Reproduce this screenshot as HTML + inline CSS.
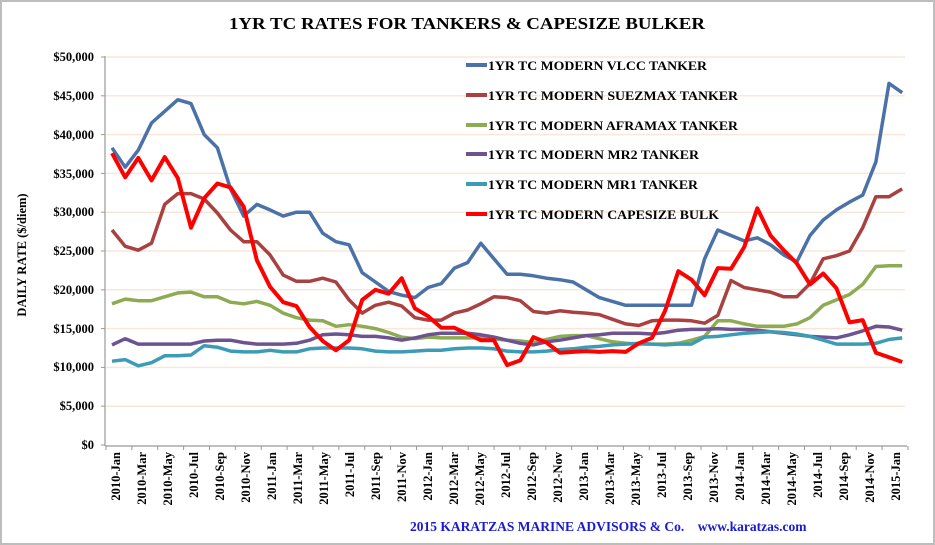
<!DOCTYPE html>
<html><head><meta charset="utf-8"><style>
html,body{margin:0;padding:0;background:#fff;}
svg{display:block;}
text{font-family:"Liberation Serif",serif;font-weight:bold;}
</style></head><body>
<svg id="s" width="935" height="545" viewBox="0 0 935 545" xmlns="http://www.w3.org/2000/svg">
<rect x="1" y="1" width="933" height="543" fill="#fff" stroke="#bdbdbd" stroke-width="2"/>
<text x="229" y="29" font-size="17" textLength="476" lengthAdjust="spacingAndGlyphs" fill="#000">1YR TC RATES FOR TANKERS &amp; CAPESIZE BULKER</text>
<g id="grid" stroke="#fbe6d8" stroke-width="1.5"></g>
<g font-size="12.5" text-anchor="end" fill="#000">
<text x="94" y="61">$50,000</text><text x="94" y="100">$45,000</text><text x="94" y="139">$40,000</text>
<text x="94" y="178">$35,000</text><text x="94" y="216">$30,000</text><text x="94" y="255">$25,000</text>
<text x="94" y="294">$20,000</text><text x="94" y="333">$15,000</text><text x="94" y="371">$10,000</text>
<text x="94" y="410">$5,000</text><text x="94" y="449">$0</text>
</g>
<text transform="translate(26,255) rotate(-90)" font-size="12.5" text-anchor="middle">DAILY RATE ($/diem)</text>
<line x1="105" y1="56" x2="105" y2="446" stroke="#999" stroke-width="1.2"/>
<line x1="105" y1="446" x2="907" y2="446" stroke="#999" stroke-width="1.2"/>
<g id="ticks" stroke="#999" stroke-width="1"></g>
<g id="series" fill="none" stroke-width="3.5" stroke-linejoin="round"></g>
<g font-size="13" fill="#000">
<line x1="466" y1="65" x2="487" y2="65" stroke="#4a72a8" stroke-width="4"/><text x="488" y="70" textLength="219" lengthAdjust="spacingAndGlyphs">1YR TC MODERN VLCC TANKER</text>
<line x1="466" y1="95" x2="487" y2="95" stroke="#a8413f" stroke-width="4"/><text x="488" y="100" textLength="250" lengthAdjust="spacingAndGlyphs">1YR TC MODERN SUEZMAX TANKER</text>
<line x1="466" y1="125" x2="487" y2="125" stroke="#8cab52" stroke-width="4"/><text x="488" y="130" textLength="250" lengthAdjust="spacingAndGlyphs">1YR TC MODERN AFRAMAX TANKER</text>
<line x1="466" y1="154" x2="487" y2="154" stroke="#6e5391" stroke-width="4"/><text x="488" y="159" textLength="211" lengthAdjust="spacingAndGlyphs">1YR TC MODERN MR2 TANKER</text>
<line x1="466" y1="184" x2="487" y2="184" stroke="#3d9cb5" stroke-width="4"/><text x="488" y="189" textLength="210" lengthAdjust="spacingAndGlyphs">1YR TC MODERN MR1 TANKER</text>
<line x1="466" y1="214" x2="487" y2="214" stroke="#ff0000" stroke-width="4"/><text x="488" y="219" textLength="231" lengthAdjust="spacingAndGlyphs">1YR TC MODERN CAPESIZE BULK</text>
</g>
<text x="410" y="531" font-size="13.5" fill="#1a1ad0" xml:space="preserve">2015 KARATZAS MARINE ADVISORS &amp; Co.    www.karatzas.com</text>
<g font-size="12.5" text-anchor="end">
<text transform="translate(120,452) rotate(-90)">2010-Jan</text>
<text transform="translate(146,452) rotate(-90)">2010-Mar</text>
<text transform="translate(172,452) rotate(-90)">2010-May</text>
<text transform="translate(198,452) rotate(-90)">2010-Jul</text>
<text transform="translate(224,452) rotate(-90)">2010-Sep</text>
<text transform="translate(250,452) rotate(-90)">2010-Nov</text>
<text transform="translate(276,452) rotate(-90)">2011-Jan</text>
<text transform="translate(302,452) rotate(-90)">2011-Mar</text>
<text transform="translate(328,452) rotate(-90)">2011-May</text>
<text transform="translate(354,452) rotate(-90)">2011-Jul</text>
<text transform="translate(380,452) rotate(-90)">2011-Sep</text>
<text transform="translate(406,452) rotate(-90)">2011-Nov</text>
<text transform="translate(432,452) rotate(-90)">2012-Jan</text>
<text transform="translate(458,452) rotate(-90)">2012-Mar</text>
<text transform="translate(484,452) rotate(-90)">2012-May</text>
<text transform="translate(510,452) rotate(-90)">2012-Jul</text>
<text transform="translate(536,452) rotate(-90)">2012-Sep</text>
<text transform="translate(562,452) rotate(-90)">2012-Nov</text>
<text transform="translate(588,452) rotate(-90)">2013-Jan</text>
<text transform="translate(614,452) rotate(-90)">2013-Mar</text>
<text transform="translate(640,452) rotate(-90)">2013-May</text>
<text transform="translate(666,452) rotate(-90)">2013-Jul</text>
<text transform="translate(692,452) rotate(-90)">2013-Sep</text>
<text transform="translate(718,452) rotate(-90)">2013-Nov</text>
<text transform="translate(744,452) rotate(-90)">2014-Jan</text>
<text transform="translate(770,452) rotate(-90)">2014-Mar</text>
<text transform="translate(796,452) rotate(-90)">2014-May</text>
<text transform="translate(822,452) rotate(-90)">2014-Jul</text>
<text transform="translate(848,452) rotate(-90)">2014-Sep</text>
<text transform="translate(874,452) rotate(-90)">2014-Nov</text>
<text transform="translate(900,452) rotate(-90)">2015-Jan</text>
</g>
</svg>
<script>
var NS="http://www.w3.org/2000/svg";
function el(p,t,a){var e=document.createElementNS(NS,t);for(var k in a)e.setAttribute(k,a[k]);document.getElementById(p).appendChild(e);}
function Y(v){return 445-v*7.76;}
for(var g=5;g<=50;g+=5){el("grid","line",{x1:106,x2:905,y1:Y(g),y2:Y(g)});}
for(var t=0;t<=31;t++){var x=106+t*25.87;el("ticks","line",{x1:x,x2:x,y1:446,y2:450});}
for(var v=0;v<=50;v+=5){el("ticks","line",{x1:101,x2:105,y1:Y(v),y2:Y(v)});}
var D=[
["#4a72a8",[38.3,35.8,38,41.5,43,44.5,44,40,38.3,33,29.5,31,30.3,29.5,30,30,27.3,26.2,25.8,22.2,21,19.8,19.3,19,20.3,20.8,22.8,23.5,26,24,22,22,21.8,21.5,21.3,21,20,19,18.5,18,18,18,18,18,18,24,27.7,27,26.3,26.7,25.8,24.5,23.6,27,29,30.3,31.3,32.2,36.5,46.6,45.4]],
["#a8413f",[27.7,25.6,25.1,26,31,32.4,32.4,31.7,29.9,27.7,26.2,26.2,24.5,21.9,21.1,21.1,21.5,21,18.7,17,18,18.4,17.9,16.4,16.1,16.1,17,17.4,18.2,19.1,19,18.6,17.2,17,17.3,17.1,17,16.8,16.2,15.6,15.4,16,16.1,16.1,16,15.7,16.7,21.2,20.3,20,19.7,19.1,19.1,20.8,24,24.4,25,28,32,32,33]],
["#8cab52",[18.2,18.8,18.6,18.6,19.1,19.6,19.7,19.1,19.1,18.4,18.2,18.5,18,17,16.4,16.1,16,15.3,15.5,15.3,15,14.5,13.9,13.7,13.9,13.8,13.8,13.8,13.8,13.7,13.5,13.4,13.2,13.6,14,14.1,14.1,13.7,13.3,13.1,13,13,13,13.1,13.5,14,16,16,15.6,15.3,15.3,15.3,15.6,16.4,18,18.7,19.4,20.7,23,23.1,23.1]],
["#6e5391",[12.9,13.7,13,13,13,13,13,13.4,13.5,13.5,13.2,13,13,13,13.1,13.5,14.2,14.3,14.2,14,14,13.8,13.5,13.8,14.2,14.4,14.4,14.4,14.2,13.9,13.5,13.1,12.9,13.3,13.5,13.8,14.1,14.2,14.4,14.4,14.4,14.3,14.5,14.8,14.9,14.9,15,14.9,14.9,14.8,14.6,14.4,14.2,14,13.9,13.8,14.2,14.7,15.3,15.2,14.8]],
["#3d9cb5",[10.8,11,10.2,10.6,11.5,11.5,11.6,12.8,12.6,12.1,12,12,12.2,12,12,12.4,12.5,12.5,12.5,12.4,12.1,12,12,12.1,12.2,12.2,12.4,12.5,12.5,12.4,12.1,12,12,12.1,12.3,12.4,12.6,12.7,12.9,13,13.1,13,12.9,13,13,13.9,14,14.2,14.4,14.5,14.6,14.5,14.3,14,13.5,13,13,13,13.1,13.6,13.8]],
["#ff0000",[37.6,34.5,37,34.1,37.1,34.4,28,31.8,33.7,33.2,30.7,23.8,20.4,18.4,17.9,15.2,13.4,12.2,13.5,18.7,20,19.5,21.5,17.6,16.6,15.1,15.1,14.3,13.5,13.5,10.3,10.9,13.9,13.2,11.9,12,12.1,12,12.1,12,13.1,13.8,17.3,22.4,21.3,19.3,22.8,22.7,25.5,30.5,27,25.1,23.4,20.7,22.1,20.2,15.8,16.1,11.9,11.3,10.7]]
];
D.forEach(function(s){var p=s[1].map(function(v,i){return (112+13.17*i).toFixed(1)+","+Y(v).toFixed(1);}).join(" ");
el("series","polyline",{points:p,stroke:s[0],"stroke-width":s[0]=="#ff0000"?4:3.5});});
</script>
</body></html>
